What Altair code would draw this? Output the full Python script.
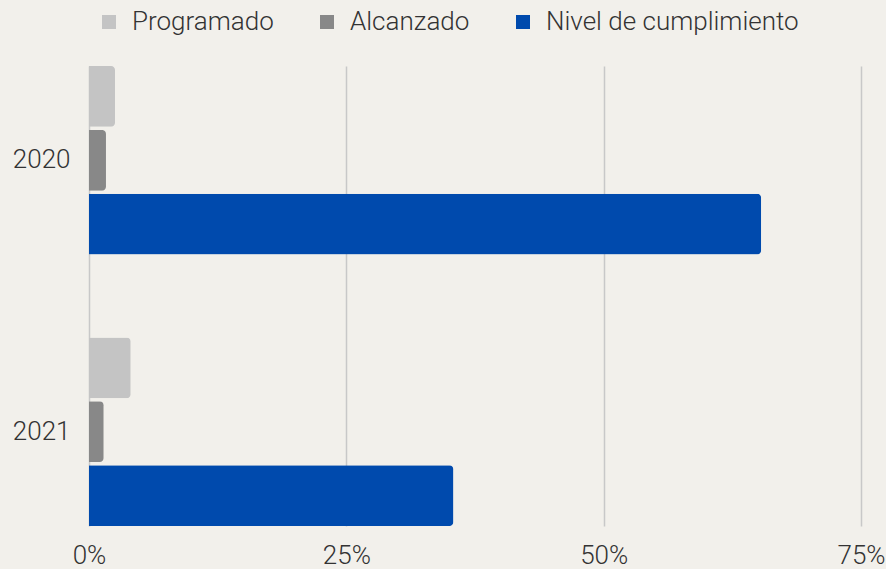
import altair as alt
import pandas as pd

years = ["2020", "2021"]
series = ["Programado", "Alcanzado", "Nivel de cumplimiento"]
programado = [0.0253, 0.0405]
alcanzado = [0.0165, 0.0143]
nivel = [0.653, 0.354]
colors = ["#c4c4c4", "#888888", "#004aad"]
x_ticks = [0, 0.25, 0.5, 0.75]

rows = []
for i, yr in enumerate(years):
    for s, vals in zip(series, [programado, alcanzado, nivel]):
        rows.append({"Año": yr, "Serie": s, "Valor": vals[i]})
df = pd.DataFrame(rows)

FONT = "Roboto"
TXT = "#333333"
FS = 26

chart = alt.Chart(df).mark_bar(cornerRadiusEnd=4).encode(
    y=alt.Y("Año:N", sort=years,
            scale=alt.Scale(paddingInner=0.305, paddingOuter=0),
            axis=alt.Axis(title=None, domain=False, ticks=False, labelPadding=19,
                          labelFontSize=FS, labelColor=TXT, labelFont=FONT, labelFontWeight=300)),
    yOffset=alt.YOffset("Serie:N", sort=series,
                        scale=alt.Scale(paddingInner=0.05, paddingOuter=0)),
    x=alt.X("Valor:Q", scale=alt.Scale(domain=[0, 0.75], nice=False),
            axis=alt.Axis(values=x_ticks, format=".0%", title=None, domain=False, ticks=False,
                          labelFlush=False, grid=True, gridColor="#c8c8c8", gridWidth=1.5,
                          labelPadding=16, labelFontSize=FS, labelColor=TXT, labelFont=FONT,
                          labelFontWeight=300)),
    color=alt.Color("Serie:N", sort=series,
                    scale=alt.Scale(domain=series, range=colors),
                    legend=alt.Legend(orient="none", legendX=7, legendY=-57, direction="horizontal",
                                      title=None, symbolType="square", symbolSize=196,
                                      symbolStrokeWidth=0, labelFontSize=FS, labelFont=FONT,
                                      labelFontWeight=300, labelColor=TXT, labelOffset=10,
                                      columnPadding=40, padding=0, labelLimit=500)),
).properties(
    width=772, height=460,
    autosize=alt.AutoSizeParams(type="none"),
    padding={"left": 89, "top": 66, "right": 25, "bottom": 43},
    background="#f2f0eb",
).configure_view(strokeWidth=0)

chart.save("out.html", embed_options={"renderer": "svg", "actions": False})
